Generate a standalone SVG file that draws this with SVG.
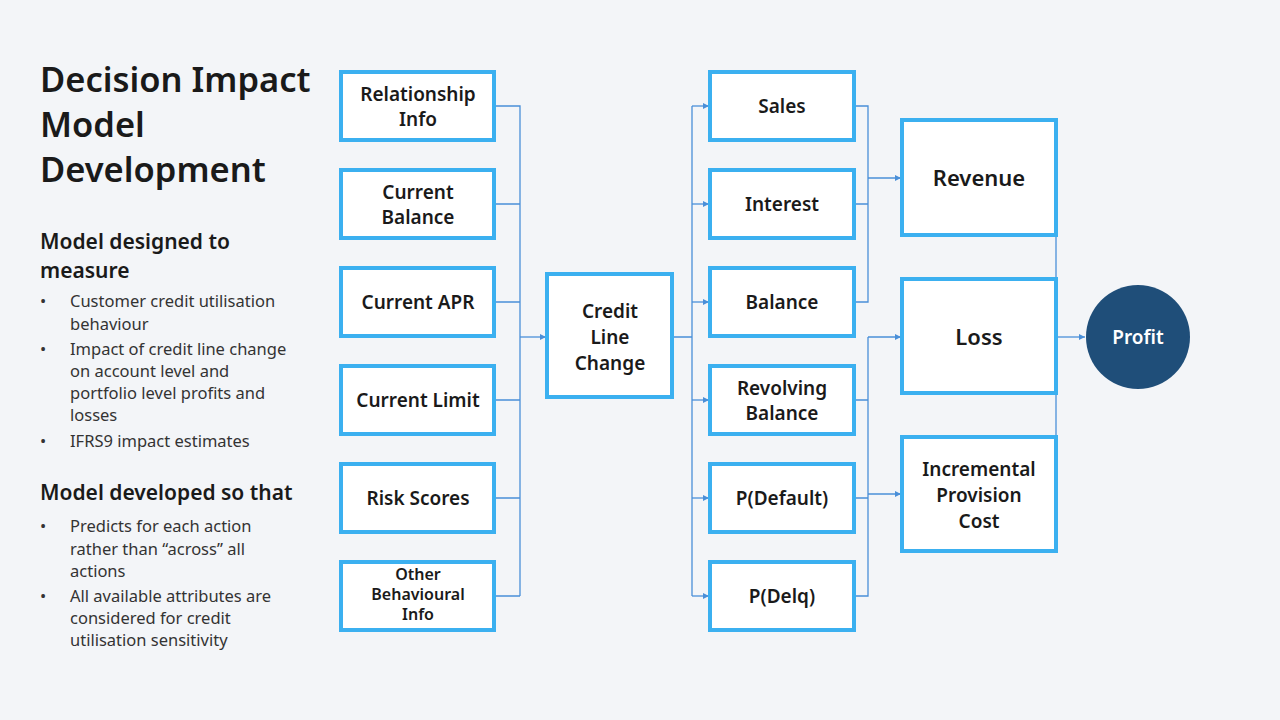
<svg xmlns="http://www.w3.org/2000/svg" width="1280" height="720" viewBox="0 0 1280 720">
<defs>
<marker id="ah" viewBox="0 0 10 10" refX="10" refY="5" markerWidth="5" markerHeight="5" orient="auto"><path d="M0,0L10,5L0,10z" fill="#4a8fd8"/></marker>
<style>
.b{fill:#fff;stroke:#3bb0f0;stroke-width:4}
.t{font-family:"Noto Sans",sans-serif;font-weight:600;font-size:19px;fill:#1a1a1a;text-anchor:middle}
.s{font-size:16px}
.g{font-size:22px}
.L{font-family:"Noto Sans",sans-serif;fill:#1a1a1a}
.c{fill:none;stroke:#4a8fd8;stroke-width:1.3}
</style>
</defs>
<rect width="1280" height="720" fill="#f3f5f8"/>
<g class="L">
<text x="40" y="92" font-size="34.5" font-weight="600">Decision Impact</text>
<text x="40" y="137" font-size="34.5" font-weight="600">Model</text>
<text x="40" y="182" font-size="34.5" font-weight="600">Development</text>
<text x="40" y="249" font-size="21" font-weight="600">Model designed to</text>
<text x="40" y="278" font-size="21" font-weight="600">measure</text>
<g font-size="16.5" fill="#333">
<text x="40" y="307">•</text><text x="70" y="307">Customer credit utilisation</text>
<text x="70" y="330">behaviour</text>
<text x="40" y="355">•</text><text x="70" y="355">Impact of credit line change</text>
<text x="70" y="377">on account level and</text>
<text x="70" y="399">portfolio level profits and</text>
<text x="70" y="421">losses</text>
<text x="40" y="447">•</text><text x="70" y="447">IFRS9 impact estimates</text>
</g>
<text x="40" y="500" font-size="21" font-weight="600">Model developed so that</text>
<g font-size="16.5" fill="#333">
<text x="40" y="532">•</text><text x="70" y="532">Predicts for each action</text>
<text x="70" y="555">rather than “across” all</text>
<text x="70" y="577">actions</text>
<text x="40" y="602">•</text><text x="70" y="602">All available attributes are</text>
<text x="70" y="624">considered for credit</text>
<text x="70" y="646">utilisation sensitivity</text>
</g>
</g>
<g id="connectors">
<path class="c" d="M494,106H520V596M494,204H520M494,302H520M494,400H520M494,498H520M494,596H520"/>
<path class="c" d="M520,337H546" marker-end="url(#ah)"/>
<path class="c" d="M672,337H692M692,106V596"/>
<path class="c" d="M692,106H709" marker-end="url(#ah)"/>
<path class="c" d="M692,204H709" marker-end="url(#ah)"/>
<path class="c" d="M692,302H709" marker-end="url(#ah)"/>
<path class="c" d="M692,400H709" marker-end="url(#ah)"/>
<path class="c" d="M692,498H709" marker-end="url(#ah)"/>
<path class="c" d="M692,596H709" marker-end="url(#ah)"/>
<path class="c" d="M854,106H868V302H854M854,204H868"/>
<path class="c" d="M868,178H901" marker-end="url(#ah)"/>
<path class="c" d="M854,400H868V596H854M854,498H868M868,337V400"/>
<path class="c" d="M868,337H901" marker-end="url(#ah)"/>
<path class="c" d="M868,494H901" marker-end="url(#ah)"/>
<path class="c" d="M1056,178V494"/>
<path class="c" d="M1056,337H1085" marker-end="url(#ah)"/>
</g>
<g id="n-rel"><rect class="b" x="341" y="72" width="153" height="68"/><text class="t" x="418" y="101">Relationship</text><text class="t" x="418" y="126">Info</text></g>
<g id="n-cb"><rect class="b" x="341" y="170" width="153" height="68"/><text class="t" x="418" y="199">Current</text><text class="t" x="418" y="224">Balance</text></g>
<g id="n-apr"><rect class="b" x="341" y="268" width="153" height="68"/><text class="t" x="418" y="309">Current APR</text></g>
<g id="n-lim"><rect class="b" x="341" y="366" width="153" height="68"/><text class="t" x="418" y="407">Current Limit</text></g>
<g id="n-risk"><rect class="b" x="341" y="464" width="153" height="68"/><text class="t" x="418" y="505">Risk Scores</text></g>
<g id="n-oth"><rect class="b" x="341" y="562" width="153" height="68"/><text class="t s" x="418" y="580">Other</text><text class="t s" x="418" y="600">Behavioural</text><text class="t s" x="418" y="620">Info</text></g>
<g id="n-clc"><rect class="b" x="547" y="274" width="125" height="123"/><text class="t" x="610" y="318">Credit</text><text class="t" x="610" y="344">Line</text><text class="t" x="610" y="370">Change</text></g>
<g id="n-sales"><rect class="b" x="710" y="72" width="144" height="68"/><text class="t" x="782" y="113">Sales</text></g>
<g id="n-int"><rect class="b" x="710" y="170" width="144" height="68"/><text class="t" x="782" y="211">Interest</text></g>
<g id="n-bal"><rect class="b" x="710" y="268" width="144" height="68"/><text class="t" x="782" y="309">Balance</text></g>
<g id="n-rev"><rect class="b" x="710" y="366" width="144" height="68"/><text class="t" x="782" y="395">Revolving</text><text class="t" x="782" y="420">Balance</text></g>
<g id="n-pd"><rect class="b" x="710" y="464" width="144" height="68"/><text class="t" x="782" y="505">P(Default)</text></g>
<g id="n-pdq"><rect class="b" x="710" y="562" width="144" height="68"/><text class="t" x="782" y="603">P(Delq)</text></g>
<g id="n-revenue"><rect class="b" x="902" y="120" width="154" height="115"/><text class="t g" x="979" y="186">Revenue</text></g>
<g id="n-loss"><rect class="b" x="902" y="279" width="154" height="114"/><text class="t g" x="979" y="345">Loss</text></g>
<g id="n-ipc"><rect class="b" x="902" y="437" width="154" height="114"/><text class="t" x="979" y="476">Incremental</text><text class="t" x="979" y="502">Provision</text><text class="t" x="979" y="528">Cost</text></g>
<g id="n-profit"><circle cx="1138" cy="337" r="52" fill="#1f4e79"/><text class="t" x="1138" y="344" style="fill:#fff">Profit</text></g>
</svg>
